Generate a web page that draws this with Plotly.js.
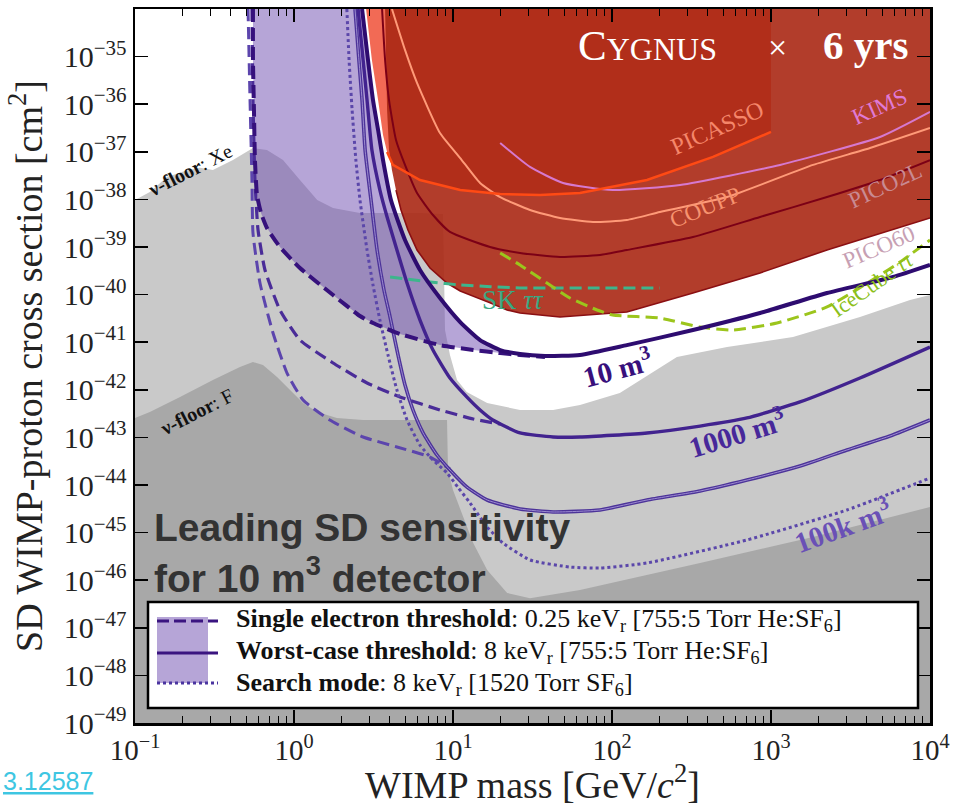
<!DOCTYPE html>
<html><head><meta charset="utf-8">
<script src="https://cdn.plot.ly/plotly-3.0.1.min.js"></script>
<style>html,body{margin:0;padding:0;background:#fff;}#chart{width:955px;height:806px;}</style>
</head><body><div id="chart"></div>
<script>
// ---------------- data (mass in GeV/c^2, cross section in cm^2) ----------------
const xeFloorMass = [0.1,0.124,0.159,0.206,0.256,0.309,0.413,0.552,0.676,0.853,1.09,1.40,1.76,2.60,6.20,8.65,8.91,9.57,10.6,12.2,16.4,26.4,42.6,62.9,112,200,256,529,1375,3628,7485,10000];
const xeFloorSigma = [9.7e-39,1.43e-38,2.96e-38,3.95e-38,4.6e-38,4.15e-38,6.7e-38,1.2e-37,1.09e-37,6.7e-38,2.56e-38,9.7e-39,6.6e-39,5.2e-39,5.2e-39,4.93e-39,1.8e-41,5.4e-42,1.61e-42,9.0e-43,5.3e-43,3.77e-43,3.77e-43,4.8e-43,8.6e-43,3.0e-42,4.9e-42,7.9e-42,1.29e-41,3.38e-41,7.7e-41,9.8e-41];

const fFloorMass = [0.1,0.124,0.192,0.309,0.457,0.552,0.638,0.782,0.944,1.14,1.40,1.86,2.72,9.17,9.30,10.0,11.6,13.4,16.4,21.9,30.5,62.9,358,1838,10000];
const fFloorSigma = [2.56e-43,3.42e-43,7.1e-43,1.61e-42,3.0e-42,3.84e-42,3.32e-42,1.86e-42,9.9e-43,5.3e-43,3.42e-43,2.56e-43,2.32e-43,2.32e-43,2.07e-44,7.85e-45,2.13e-45,6.05e-46,1.64e-46,5.4e-47,4.2e-47,6.2e-47,2.3e-46,8.1e-46,3.45e-45];

// Cygnus: single electron threshold (dashed)
const se10Mass = [0.552,0.552,0.560,0.568,0.585,0.620,0.676,0.816,1.09,1.76,2.60,3.14,4.64,8.28,13.4,19.8,26.4,37.9];
const se10Sigma = [1e-34,8.5e-36,7.55e-37,6.7e-38,1.24e-38,5.2e-39,2.51e-39,1.0e-39,3.62e-40,9.8e-41,3.55e-41,2.53e-41,1.49e-41,8.7e-42,6.85e-42,5.9e-42,5.4e-42,4.9e-42];
const se1000Mass = [0.544,0.552,0.568,0.594,0.657,0.816,1.09,1.76,2.88,4.64,8.28,13.4,19.8];
const se1000Sigma = [1e-34,1.22e-36,2.56e-38,2.28e-39,3.29e-40,4.75e-41,1.11e-41,3.66e-42,1.39e-42,7.1e-43,3.77e-43,2.44e-43,1.91e-43];
const se100kMass = [0.514,0.529,0.544,0.552,0.611,0.738,0.904,1.14,1.68,2.72,4.44,7.17,9.57];
const se100kSigma = [1e-34,1.22e-36,2.56e-38,1.97e-39,1.75e-40,1.56e-41,2.25e-42,6.1e-43,2.32e-43,1.02e-43,6.3e-44,3.87e-44,2.17e-44];

// Cygnus: worst-case threshold (solid)
const wc10Mass = [2.68,2.92,3.14,3.38,3.63,4.07,4.99,6.20,8.28,11.1,14.8,19.8,26.4,37.9,62.9,124,323,853,2250,5853,10000];
const wc10Sigma = [1e-34,8.5e-36,1.22e-36,2.87e-37,6.7e-38,9.7e-39,1.40e-39,3.29e-40,8.5e-41,2.65e-41,1.11e-41,6.85e-42,5.65e-42,5.15e-42,5.4e-42,8.7e-42,1.8e-41,4.1e-41,1.08e-40,2.34e-40,4.19e-40];
const wc1000Mass = [2.53,2.72,2.88,3.09,3.47,3.85,4.44,5.14,6.20,7.48,9.57,12.2,14.8,17.8,26.4,42.6,62.9,166,358,706,1522,3628,10000];
const wc1000Sigma = [1e-34,8.5e-36,1.22e-36,1.09e-37,1.57e-38,4.27e-39,8.65e-40,1.75e-40,2.92e-41,6.85e-42,1.77e-42,7.1e-43,3.77e-43,2.32e-43,1.24e-43,1.02e-43,1.02e-43,1.24e-43,1.73e-43,2.56e-43,5.55e-43,1.77e-42,7.9e-42];
const wc100kMass = [2.42,2.56,2.68,2.80,3.05,3.33,3.68,4.02,4.51,4.99,5.60,6.48,7.93,9.57,12.2,16.4,26.4,42.6,84.0,166,358,706,1522,3006,5604,10000];
const wc100kSigma = [1e-34,8.5e-36,1.22e-36,1.09e-37,9.7e-39,8.65e-40,1.25e-40,3.38e-41,5.4e-42,1.26e-42,3.77e-43,1.24e-43,4.27e-44,2.07e-44,9.1e-45,4.84e-45,3.13e-45,2.71e-45,2.99e-45,4.84e-45,7.48e-45,1.27e-44,2.5e-44,5.45e-44,1.07e-43,2.32e-43];

// Cygnus: search mode (dotted)
const sm100kMass = [2.15,2.22,2.32,2.45,2.60,2.88,3.14,3.47,3.90,4.44,5.14,6.20,7.48,9.17,10.7,12.8,16.4,20.6,30.5,54.4,84.0,166,706,3006,10000];
const sm100kSigma = [1e-34,8.5e-36,7.55e-37,6.7e-38,9.7e-39,8.65e-40,1.59e-40,2.92e-41,5.4e-42,9.9e-43,2.32e-43,6.9e-44,3.35e-44,1.79e-44,9.1e-45,4.19e-45,1.31e-45,6.05e-46,2.66e-46,1.89e-46,1.8e-46,2.3e-46,7.0e-46,2.99e-45,1.4e-44];

// existing limits
const picassoMass = [2.84,3.09,3.38,3.63,3.85,4.19,6.20,8.28,11.1,19.8,35.3,62.9,166,432,1000];
const picassoSigma = [1e-34,8.5e-36,1.22e-36,2.25e-37,9.9e-38,5.3e-38,2.56e-38,2.01e-38,1.57e-38,1.30e-38,1.24e-38,1.36e-38,2.56e-38,7.8e-38,2.61e-37];
const pico60Mass = [3.74,3.79,3.85,3.96,4.13,4.38,4.71,5.21,5.94,7.17,9.17,11.1,13.4,17.1,21.9,26.4,47.1,124,323,853,2250,5853,10000];
const pico60Sigma = [1e-34,8.5e-36,7.55e-37,1.09e-37,4.15e-38,1.57e-38,6.0e-39,2.28e-39,8.65e-40,3.62e-40,1.75e-40,1.19e-40,9.35e-41,6.7e-41,4.75e-41,4.1e-41,3.38e-41,4.31e-41,1.08e-40,2.85e-40,8.65e-40,2.28e-39,4.06e-39];
const pico2lMass = [3.58,3.74,3.96,4.38,4.99,5.94,7.48,9.57,17.1,26.4,47.1,84.0,124,323,853,2250,4848,10000];
const pico2lSigma = [1e-34,8.5e-36,1.22e-36,1.77e-37,5.3e-38,1.36e-38,4.7e-39,2.07e-39,1.0e-39,7.5e-40,6.17e-40,6.79e-40,8.65e-40,1.62e-39,4.27e-39,1.12e-38,2.56e-38,6.7e-38];
const couppMass = [4.13,4.99,5.94,8.28,11.1,14.8,19.8,30.5,47.1,75.9,124,200,529,1838,4194,10000];
const couppSigma = [1e-34,1.38e-35,2.79e-36,2.48e-37,7.4e-38,2.21e-38,1.12e-38,6.0e-39,4.06e-39,3.35e-39,3.69e-39,5.43e-39,1.12e-38,5.3e-38,1.2e-37,3.16e-37];
const kimsMass = [19.8,30.5,49.2,101,268,1139,4848,10000];
const kimsSigma = [1.53e-37,4.8e-38,2.21e-38,1.57e-38,2.01e-38,5.3e-38,2.05e-37,6.9e-37];
const skMass = [4.02,7.17,11.1,26.4,84.0,200];
const skSigma = [2.34e-40,1.84e-40,1.59e-40,1.38e-40,1.38e-40,1.38e-40];
const iceCubeMass = [19.8,26.4,39.0,54.4,80.5,101,200,358,577,1090,2250,4642,6477,10000];
const iceCubeSigma = [7.5e-40,4.19e-40,1.75e-40,8.5e-41,4.75e-41,3.72e-41,3.22e-41,2.08e-41,1.8e-41,2.53e-41,5.5e-41,2.34e-40,4.84e-40,1.4e-39];

// axes
const xTickVals = [0.1,1,10,100,1000,10000];
const xTickText = ['10<sup>−1</sup>','10<sup>0</sup>','10<sup>1</sup>','10<sup>2</sup>','10<sup>3</sup>','10<sup>4</sup>'];
const yTickVals = [1e-35,1e-36,1e-37,1e-38,1e-39,1e-40,1e-41,1e-42,1e-43,1e-44,1e-45,1e-46,1e-47,1e-48,1e-49];
const yTickText = ['10<sup>−35</sup>','10<sup>−36</sup>','10<sup>−37</sup>','10<sup>−38</sup>','10<sup>−39</sup>','10<sup>−40</sup>','10<sup>−41</sup>','10<sup>−42</sup>','10<sup>−43</sup>','10<sup>−44</sup>','10<sup>−45</sup>','10<sup>−46</sup>','10<sup>−47</sup>','10<sup>−48</sup>','10<sup>−49</sup>'];

const legendLabels = [
  '<b>Single electron threshold</b>: 0.25 keV<sub>r</sub> [755:5 Torr He:SF<sub>6</sub>]',
  '<b>Worst-case threshold</b>: 8 keV<sub>r</sub> [755:5 Torr He:SF<sub>6</sub>]',
  '<b>Search mode</b>: 8 keV<sub>r</sub> [1520 Torr SF<sub>6</sub>]'
];

// ---------------- build ----------------
const TOP = 1e-33, BOTTOM = 1e-50;
const SERIF = 'Liberation Serif, Times New Roman, serif';
const SANS = 'Liberation Sans, Arial, sans-serif';

function poly(xs, ys, extraX, extraY, fill) {
  return {x: xs.concat(extraX), y: ys.concat(extraY), mode:'lines', fill:'toself',
          fillcolor: fill, line:{width:0}, hoverinfo:'skip', showlegend:false};
}
function line(xs, ys, color, width, dash, shape) {
  const l = {color:color, width:width, dash:dash||'solid', shape:shape||'spline'};
  if (l.shape === 'spline') l.smoothing = 0.5;
  return {x: xs, y: ys, mode:'lines', line:l, hoverinfo:'skip', showlegend:false};
}

const lastSe = se10Mass[se10Mass.length-1];
const bandIdx = wc10Mass.map((m,i)=>i).filter(i=>wc10Mass[i] <= lastSe).reverse();
const bandX = se10Mass.concat(bandIdx.map(i=>wc10Mass[i]));
const bandY = se10Sigma.concat(bandIdx.map(i=>wc10Sigma[i]));

const traces = [
  poly(xeFloorMass, xeFloorSigma, [10000, 0.1], [BOTTOM, BOTTOM], '#c9c9c9'),
  poly(fFloorMass, fFloorSigma, [10000, 0.1], [BOTTOM, BOTTOM], '#a8a8a8'),
  {x: bandX, y: bandY, mode:'lines', fill:'toself', fillcolor:'rgba(110,75,175,0.5)', line:{width:0}, hoverinfo:'skip', showlegend:false},
  poly(picassoMass, picassoSigma, [picassoMass[picassoMass.length-1], picassoMass[0]], [TOP, TOP], 'rgba(240,80,55,0.85)'),
  poly(pico60Mass, pico60Sigma, [pico60Mass[pico60Mass.length-1], pico60Mass[0]], [TOP, TOP], 'rgba(170,40,20,0.9)'),
  line(pico60Mass.slice(5), pico60Sigma.slice(5), '#8a0f12', 1.6, 'solid', 'linear'),
  line(pico2lMass, pico2lSigma, '#7c0016', 2),
  line(couppMass, couppSigma, '#ff9a78', 2),
  line(kimsMass, kimsSigma, '#d679cf', 2),
  line(picassoMass.slice(4), picassoSigma.slice(4), '#ff4a14', 2.5, 'solid', 'linear'),
  line(skMass, skSigma, '#3db58c', 3, '12px,6px'),
  line(iceCubeMass, iceCubeSigma, '#9cc51c', 3, '12px,6px'),
  line(se100kMass, se100kSigma, '#5c45ad', 3, '12px,6px'),
  line(se1000Mass, se1000Sigma, '#4a2c98', 3.2, '12px,6px'),
  line(sm100kMass, sm100kSigma, '#5b47aa', 3, 'dot'),
  line(wc100kMass, wc100kSigma, '#4c3399', 3.6),
  line(wc100kMass, wc100kSigma, '#9c8bd0', 1),
  line(wc1000Mass, wc1000Sigma, '#42238f', 3.4),
  line(se10Mass, se10Sigma, '#36117c', 4, '13px,6px'),
  line(wc10Mass, wc10Sigma, '#2e0c70', 4)
];

const px = x => (x-135)/795;
const py = y => (723-y)/714;
function ann(text, x, y, size, color, angle, extra) {
  return Object.assign({text:text, xref:'paper', yref:'paper', x:px(x), y:py(y), showarrow:false,
    font:{family:SERIF, size:size, color:color}, textangle:angle||0, xanchor:'center', yanchor:'middle'}, extra||{});
}

const annotations = [
  ann('C<span style="font-size:32px">YGNUS</span>', 576, 45, 43, '#ffffff', 0, {xanchor:'left'}),
  ann('×', 777, 47, 34, '#ffffff', 0),
  ann('<b>6 yrs</b>', 910, 45, 41, '#ffffff', 0, {xanchor:'right'}),
  ann('PICASSO', 717, 128, 24, '#f5866a', -24),
  ann('KIMS', 880, 107, 23, '#e07ad6', -24),
  ann('COUPP', 705, 207, 23, '#f7936f', -22),
  ann('PICO2L', 885, 185, 23, '#c98a92', -25),
  ann('PICO60', 878, 247, 23, '#c7a0b3', -23),
  ann('IceCube <i>ττ</i>', 872, 284, 22, '#8cbf1a', -35),
  ann('SK <i>ττ</i>', 513, 300, 27, '#3aa882', 0),
  ann('<b>10 m<sup>3</sup></b>', 617, 367, 29, '#38107c', -15),
  ann('<b>1000 m<sup>3</sup></b>', 737, 432, 29, '#47289a', -17),
  ann('<b>100k m<sup>3</sup></b>', 842, 525, 29, '#6a50b6', -20),
  ann('<b>ν-floor</b>: Xe', 190, 170, 20, '#111', -27),
  ann('<b>ν-floor</b>: F', 196, 412, 20, '#111', -27),
  {text:'<b>Leading SD sensitivity<br>for 10 m<sup>3</sup> detector</b>', xref:'paper', yref:'paper', x:px(152), y:py(553),
   showarrow:false, xanchor:'left', yanchor:'middle', align:'left', font:{family:SANS, size:39, color:'#333333'}},
  ann(legendLabels[0], 234, 620, 26, '#111', 0, {xanchor:'left'}),
  ann(legendLabels[1], 234, 652, 26, '#111', 0, {xanchor:'left'}),
  ann(legendLabels[2], 234, 684, 26, '#111', 0, {xanchor:'left'}),
  {text:'<span style="text-decoration:underline">3.12587</span>', xref:'paper', yref:'paper', x:px(1), y:py(781),
   showarrow:false, xanchor:'left', yanchor:'middle', font:{family:SANS, size:25, color:'#3ec6e2'}}
];

const shapes = [
  {type:'rect', xref:'paper', yref:'paper', x0:px(148), x1:px(918), y0:py(708), y1:py(602), fillcolor:'#ffffff', line:{color:'#000', width:2.5}},
  {type:'rect', xref:'paper', yref:'paper', x0:px(157), x1:px(208), y0:py(683), y1:py(617), fillcolor:'rgba(110,75,175,0.5)', line:{width:0}},
  {type:'line', xref:'paper', yref:'paper', x0:px(157), x1:px(218), y0:py(621), y1:py(621), line:{color:'#3a1480', width:3, dash:'12px,5px'}},
  {type:'line', xref:'paper', yref:'paper', x0:px(157), x1:px(218), y0:py(653), y1:py(653), line:{color:'#3a1480', width:3}},
  {type:'line', xref:'paper', yref:'paper', x0:px(157), x1:px(218), y0:py(683), y1:py(683), line:{color:'#4a34a0', width:3, dash:'dot'}}
];

const layout = {
  width:955, height:806,
  margin:{l:135, r:25, t:9, b:83},
  paper_bgcolor:'#ffffff', plot_bgcolor:'#ffffff',
  showlegend:false,
  xaxis:{type:'log', range:[-1,4], tickmode:'array', tickvals:xTickVals, ticktext:xTickText,
    ticks:'inside', ticklen:13, tickwidth:1.5, tickcolor:'#000', showline:true, linecolor:'#000', linewidth:2.5, mirror:'ticks',
    showgrid:false, zeroline:false,
    minor:{tickmode:'linear', dtick:'D1', ticks:'inside', ticklen:7, tickwidth:1, tickcolor:'#000', showgrid:false},
    tickfont:{family:SERIF, size:29, color:'#222'},
    title:{text:'WIMP mass [GeV/<i>c</i><sup>2</sup>]', font:{family:SERIF, size:38, color:'#222'}, standoff:8}},
  yaxis:{type:'log', range:[-49,-34], tickmode:'array', tickvals:yTickVals, ticktext:yTickText,
    ticks:'inside', ticklen:13, tickwidth:1.5, tickcolor:'#000', showline:true, linecolor:'#000', linewidth:2.5, mirror:'ticks',
    showgrid:false, zeroline:false,
    tickfont:{family:SERIF, size:30, color:'#222'},
    title:{text:'SD WIMP-proton cross section [cm<sup>2</sup>]', font:{family:SERIF, size:38, color:'#222'}, standoff:10}},
  annotations: annotations,
  shapes: shapes
};

Plotly.newPlot('chart', traces, layout, {displayModeBar:false, staticPlot:true});
</script></body></html>
